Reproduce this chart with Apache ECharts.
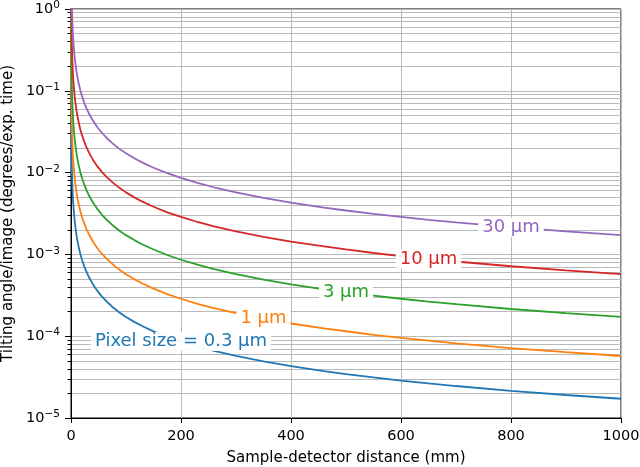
<!DOCTYPE html>
<html><head><meta charset="utf-8">
<script src="https://cdn.jsdelivr.net/npm/echarts@6/dist/echarts.min.js"></script>
<style>html,body{margin:0;padding:0;background:#fff}#c{width:640px;height:467px}</style>
</head><body><div id="c"></div>
<script>
// Sample-detector distance (mm)
const distances = [0.02, 0.05, 0.1, 0.2, 0.5, 1, 1.5, 2, 2.5, 3, 4, 5, 6, 7, 8, 10, 12, 14, 17, 20, 24, 28, 33, 40, 48, 56, 65, 75, 88, 100, 115, 130, 150, 175, 200, 230, 260, 300, 350, 400, 460, 500, 550, 600, 650, 700, 800, 900, 1000];
// Tilting angle/image (degrees/exp. time)
const px03 = [0.86, 0.344, 0.172, 0.086, 0.0344, 0.0172, 0.01147, 0.0086, 0.00688, 0.00573, 0.0043, 0.00344, 0.00287, 0.00246, 0.00215, 0.00172, 0.001433, 0.001229, 0.001012, 0.00086, 0.000717, 0.000614, 0.000521, 0.00043, 0.000358, 0.000307, 0.000265, 0.000229, 0.000195, 0.000172, 0.0001496, 0.0001323, 0.0001147, 0.0000983, 0.000086, 0.0000748, 0.0000662, 0.0000573, 0.0000491, 0.000043, 0.0000374, 0.0000344, 0.0000313, 0.0000287, 0.0000265, 0.0000246, 0.0000215, 0.0000191, 0.0000172];
const px1 = [2.87, 1.15, 0.573, 0.287, 0.115, 0.0573, 0.0382, 0.0287, 0.0229, 0.0191, 0.0143, 0.0115, 0.00955, 0.00819, 0.00716, 0.00573, 0.00478, 0.00409, 0.00337, 0.00287, 0.00239, 0.00205, 0.00174, 0.00143, 0.00119, 0.00102, 0.000882, 0.000764, 0.000651, 0.000573, 0.000498, 0.000441, 0.000382, 0.000327, 0.000287, 0.000249, 0.00022, 0.000191, 0.000164, 0.000143, 0.000125, 0.000115, 0.000104, 0.0000955, 0.0000882, 0.0000819, 0.0000716, 0.0000637, 0.0000573];
const px3 = [8.6, 3.44, 1.72, 0.86, 0.344, 0.172, 0.1147, 0.086, 0.0688, 0.0573, 0.043, 0.0344, 0.0287, 0.0246, 0.0215, 0.0172, 0.01433, 0.01229, 0.01012, 0.0086, 0.00717, 0.00614, 0.00521, 0.0043, 0.00358, 0.00307, 0.00265, 0.00229, 0.00195, 0.00172, 0.001496, 0.001323, 0.001147, 0.000983, 0.00086, 0.000748, 0.000662, 0.000573, 0.000491, 0.00043, 0.000374, 0.000344, 0.000313, 0.000287, 0.000265, 0.000246, 0.000215, 0.000191, 0.000172];
const px10 = [28.7, 11.5, 5.73, 2.87, 1.15, 0.573, 0.382, 0.287, 0.229, 0.191, 0.143, 0.115, 0.0955, 0.0819, 0.0716, 0.0573, 0.0478, 0.0409, 0.0337, 0.0287, 0.0239, 0.0205, 0.0174, 0.0143, 0.0119, 0.0102, 0.00882, 0.00764, 0.00651, 0.00573, 0.00498, 0.00441, 0.00382, 0.00327, 0.00287, 0.00249, 0.0022, 0.00191, 0.00164, 0.00143, 0.00125, 0.00115, 0.00104, 0.000955, 0.000882, 0.000819, 0.000716, 0.000637, 0.000573];
const px30 = [86, 34.4, 17.2, 8.6, 3.44, 1.72, 1.147, 0.86, 0.688, 0.573, 0.43, 0.344, 0.287, 0.246, 0.215, 0.172, 0.1433, 0.1229, 0.1012, 0.086, 0.0717, 0.0614, 0.0521, 0.043, 0.0358, 0.0307, 0.0265, 0.0229, 0.0195, 0.0172, 0.01496, 0.01323, 0.01147, 0.00983, 0.0086, 0.00748, 0.00662, 0.00573, 0.00491, 0.0043, 0.00374, 0.00344, 0.00313, 0.00287, 0.00265, 0.00246, 0.00215, 0.00191, 0.00172];

const seriesNames = ['Pixel size = 0.3 µm', '1 µm', '3 µm', '10 µm', '30 µm'];
const seriesValues = [px03, px1, px3, px10, px30];
const labelAtDistance = [200, 350, 500, 650, 800];
const colors = ['#1f77b4', '#ff7f0e', '#2ca02c', '#d62728', '#9467bd'];

const xTicks = [0, 200, 400, 600, 800, 1000];
const yMajorTicks = [1e-5, 1e-4, 1e-3, 1e-2, 1e-1, 1];
const yMinorTicks = [2e-5,3e-5,4e-5,5e-5,6e-5,7e-5,8e-5,9e-5,
  2e-4,3e-4,4e-4,5e-4,6e-4,7e-4,8e-4,9e-4,
  2e-3,3e-3,4e-3,5e-3,6e-3,7e-3,8e-3,9e-3,
  2e-2,3e-2,4e-2,5e-2,6e-2,7e-2,8e-2,9e-2,
  0.2,0.3,0.4,0.5,0.6,0.7,0.8,0.9];

const FONT = 'DejaVu Sans';
const gridColor = '#b9b9b9';

const chart = echarts.init(document.getElementById('c'), null, {renderer: 'canvas'});

const series = seriesNames.map((name, i) => {
  const vals = seriesValues[i];
  const li = distances.indexOf(labelAtDistance[i]);
  return {
    name: name,
    type: 'line',
    xAxisIndex: 0,
    yAxisIndex: 0,
    showSymbol: false,
    symbol: 'none',
    smooth: false,
    clip: true,
    data: distances.map((d, k) => [d, vals[k]]),
    lineStyle: {color: colors[i], width: 1.8},
    itemStyle: {color: colors[i]},
    z: 3,
    markPoint: {
      silent: true,
      z: 10,
      symbol: 'circle',
      symbolSize: 0,
      data: [{coord: [distances[li], vals[li]], value: name}],
      label: {
        show: true,
        position: 'inside',
        formatter: name,
        color: colors[i],
        fontFamily: FONT,
        fontSize: 18,
        backgroundColor: 'rgba(255,255,255,0.95)',
        padding: [1, 4, 0, 4]
      }
    }
  };
});

const yAxisBase = {
  type: 'log',
  logBase: 10,
  min: 1e-5,
  max: 1,
  position: 'left',
  axisLine: {show: true, onZero: false, lineStyle: {color: '#000', width: 1}}
};

chart.setOption({
  animation: false,
  backgroundColor: '#fff',
  grid: {left: 71, right: 19, top: 9, bottom: 49, containLabel: false, outerBoundsMode: 'none',
    show: true, borderColor: '#000', borderWidth: 1, backgroundColor: 'transparent'},
  xAxis: {
    type: 'value',
    min: 0,
    max: 1000,
    interval: 200,
    name: 'Sample-detector distance (mm)',
    nameLocation: 'middle',
    nameGap: 33,
    nameTextStyle: {fontFamily: FONT, fontSize: 15, color: '#000'},
    axisLine: {show: true, onZero: false, lineStyle: {color: '#000', width: 1}},
    axisTick: {show: true, length: 5, inside: false, lineStyle: {color: '#000'}, customValues: xTicks},
    axisLabel: {fontFamily: FONT, fontSize: 14.5, color: '#000', margin: 11, customValues: xTicks,
      formatter: function (v) { return String(v); }},
    splitLine: {show: true, lineStyle: {color: gridColor, width: 1}}
  },
  yAxis: [
    Object.assign({}, yAxisBase, {
      name: 'Tilting angle/image (degrees/exp. time)',
      nameLocation: 'middle',
      nameGap: 54,
      nameRotate: 90,
      nameTextStyle: {fontFamily: FONT, fontSize: 15, color: '#000'},
      axisTick: {show: true, length: 6, lineStyle: {color: '#000'}, customValues: yMajorTicks},
      axisLabel: {
        customValues: yMajorTicks,
        margin: 11,
        formatter: function (v) {
          const e = Math.round(Math.log10(v));
          const s = e < 0 ? '\u2212' + (-e) : String(e);
          return '{b|10}{s|' + s + '}';
        },
        rich: {
          b: {fontFamily: FONT, fontSize: 14.5, color: '#000', lineHeight: 18},
          s: {fontFamily: FONT, fontSize: 10.5, color: '#000', lineHeight: 11, verticalAlign: 'top'}
        }
      },
      splitLine: {show: true, lineStyle: {color: gridColor, width: 1}}
    }),
    Object.assign({}, yAxisBase, {
      axisTick: {show: true, length: 3.5, lineStyle: {color: '#000'}, customValues: yMinorTicks},
      axisLabel: {show: false, customValues: yMinorTicks},
      splitLine: {show: true, lineStyle: {color: gridColor, width: 1}}
    })
  ],
  series: series
});
</script>
</body></html>
